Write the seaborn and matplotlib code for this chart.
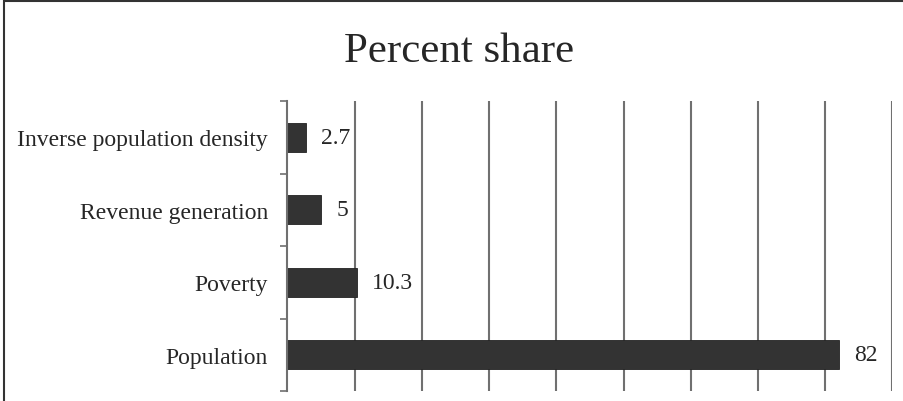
#!/usr/bin/env python3

import numpy as np
import pandas
import seaborn as sns
import matplotlib.pyplot as plt
from matplotlib.patches import Rectangle

categories = [
    "Inverse population density",
    "Revenue generation",
    "Poverty",
    "Population",
]
shares = [2.7, 5, 10.3, 82]
share_labels = ["2.7", "5", "10.3", "82"]

sns.set_style("white")
plt.rcParams["font.family"] = ["Liberation Serif", "DejaVu Serif"]

df = pandas.DataFrame({"category": categories, "share": shares})

fig = plt.figure(figsize=(9.04, 4.02), dpi=100)
ax = fig.add_axes([287.5 / 904, 10 / 402, (892.3 - 287.5) / 904, 290 / 402])

sns.barplot(
    data=df, x="share", y="category", orient="h", color="#333333",
    width=0.4, edgecolor="#222222", linewidth=0.6, saturation=1, ax=ax,
)

ax.set_xlim(0, 90)
ax.set_ylim(3.5, -0.5)
ax.set_xticks(np.arange(10, 91, 10))
ax.xaxis.grid(True, color="#707070", linewidth=1.5)
ax.set_axisbelow(True)
ax.tick_params(axis="x", length=0, labelbottom=False)

# boundary ticks on y axis, labels at category centres
ax.set_yticks(np.arange(-0.5, 4, 1))
ax.set_yticklabels([])
ax.set_yticks(range(len(categories)), minor=True)
ax.set_yticklabels(categories, minor=True, fontsize=17)
ax.tick_params(axis="y", which="major", left=True, length=5, width=1.2,
               color="#707070")
ax.tick_params(axis="y", which="minor", left=True, length=0, pad=14)

for side in ["top", "right", "bottom"]:
    ax.spines[side].set_visible(False)
ax.spines["left"].set_color("#707070")
ax.spines["left"].set_linewidth(1.5)
ax.set_xlabel("")
ax.set_ylabel("")

ax.bar_label(ax.containers[0], labels=share_labels, padding=11, fontsize=17)

fig.text(459 / 904, 1 - 62 / 402, "Percent share", ha="center", va="baseline",
         fontsize=31)

fig.patches.append(Rectangle(
    (4 / 904, -0.2), 1.2, 1.2 - 2 / 402, transform=fig.transFigure,
    fill=False, edgecolor="#333333", linewidth=1.5,
))

plt.savefig("out.png", dpi=100)
